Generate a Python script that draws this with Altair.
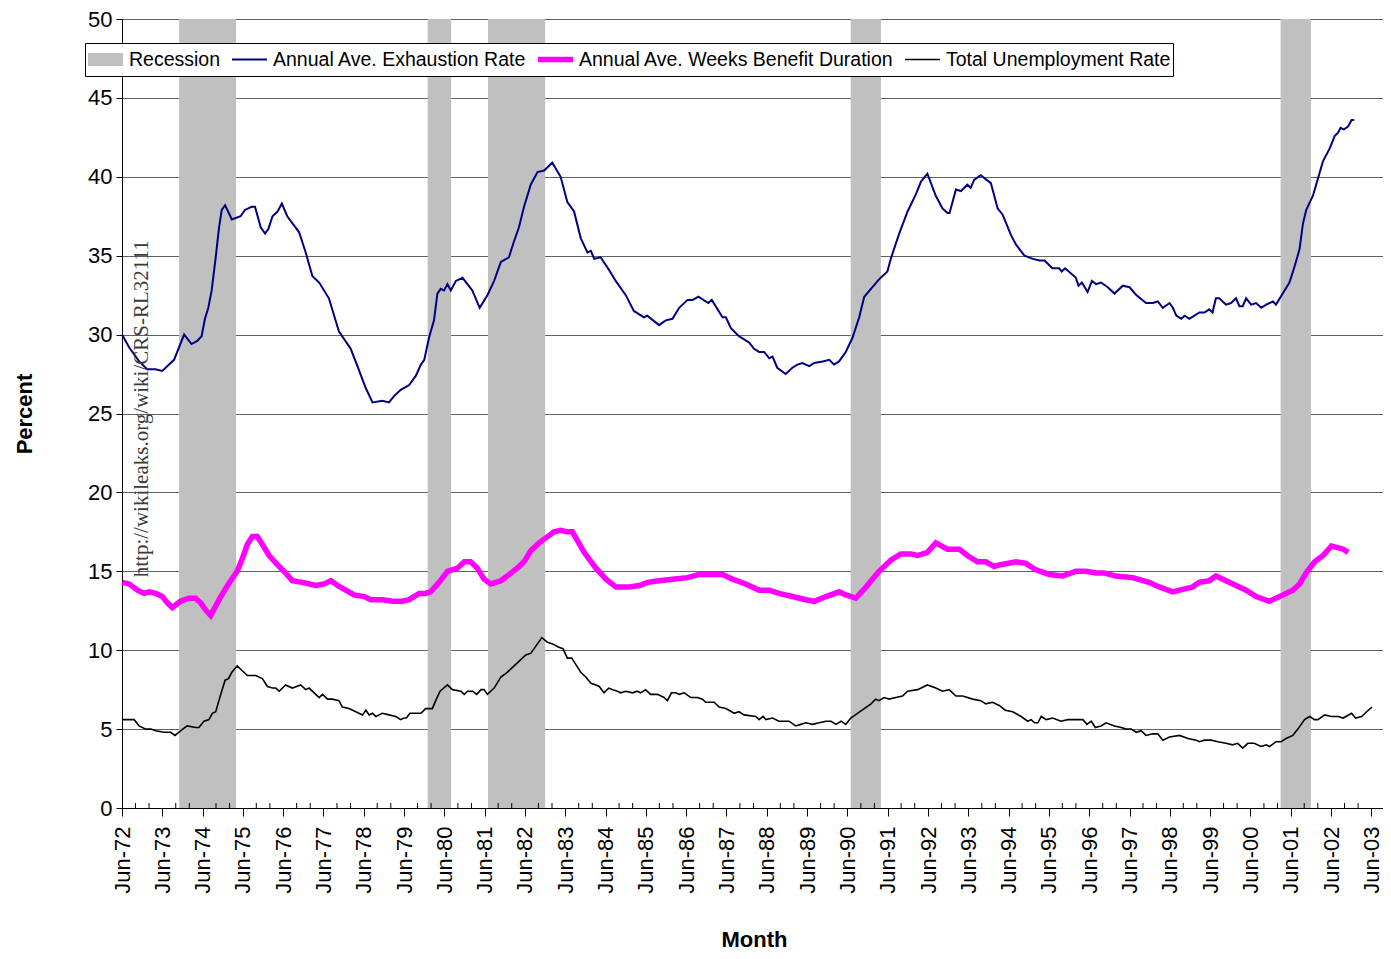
import altair as alt
import pandas as pd

# ---------------- data (month offsets from Jun-1972, values in percent) ----------------
EX_M = [0, 2.1, 5.1, 7.5, 9.9, 12.0, 14, 15.5, 18.5, 20.7, 22.4, 23.7, 24.7, 25.7, 26.7, 27.9, 28.9, 29.7, 30.7, 32.7,
        35.3, 36.6, 38.6, 39.6, 41.3, 42.6, 43.6, 44.8, 46.3, 47.6, 49.2, 52.7, 54.7, 56.7, 58.7, 61.6, 64.6, 68.1, 70.1,
        72.6, 74.6, 77.5, 79.5, 81, 83, 85.5, 87.5, 89, 90, 91.4, 92.9, 93.9, 94.9, 95.9, 96.9, 97.9, 99.4, 101.4, 104.3,
        106.5, 108.8, 110.8, 112.8, 115.2, 116.7, 118.2, 119.7, 121.7, 123.7, 125.7, 128.1, 130.6, 132.6, 134.6, 136.6,
        138.6, 139.6, 140.6, 142.5, 145, 147, 150, 152.4, 155.4, 156.4, 159.9, 161.9, 163.9, 165.9, 168.4, 169.9, 171.6,
        174.6, 175.6, 178.8, 179.8, 181.3, 183.7, 186.7, 188.2, 189.7, 191.2, 192.7, 193.7, 195.1, 197.6, 199.6, 201.1,
        202.6, 204.6, 206.1, 208.6, 210.6, 212, 213.5, 215.5, 217.5, 219.5, 221, 223, 225.4, 227.9, 228.9, 231.4, 233.9,
        236.4, 237.9, 239.8, 242.3, 244.3, 245.8, 246.4, 248.3, 249.8, 251.7, 252.7, 253.7, 255.7, 258.7, 260.7, 262.2,
        264.7, 266.2, 268.7, 271.2, 273.2, 274.7, 277, 279, 279.8, 280.8, 283, 284, 284.8, 285.8, 287.5, 288.8, 290,
        291.5, 293.5, 295.5, 298, 300, 302, 304.9, 306.9, 308.4, 309.9, 311.9, 312.9, 313.9, 315.4, 316.4, 317.8, 319.3,
        320.8, 322.3, 323.7, 324.7, 325.7, 326.7, 328.7, 330.2, 331.7, 332.7, 333.7, 334.7, 336.2, 337.7, 339.2, 340.7,
        342.7, 343.6, 345.6, 347.6, 349.1, 350.6, 351.6, 352.6, 354.6, 356.1, 357.6, 359.6, 361.1, 362.1, 362.8, 363.8,
        365.1, 366.1, 366.9]
EX_V = [30.0, 29.2, 28.3, 27.8, 27.8, 27.7, 28.1, 28.4, 30.0, 29.4, 29.6, 29.9, 31.0, 31.7, 32.8, 34.9, 36.8, 37.9, 38.2,
        37.3, 37.5, 37.9, 38.1, 38.1, 36.8, 36.4, 36.7, 37.5, 37.8, 38.3, 37.5, 36.5, 35.2, 33.7, 33.3, 32.3, 30.2, 29.1,
        28.0, 26.6, 25.7, 25.8, 25.7, 26.1, 26.5, 26.8, 27.4, 28.1, 28.4, 29.8, 30.9, 32.6, 32.9, 32.8, 33.2, 32.8, 33.4,
        33.6, 32.8, 31.7, 32.5, 33.4, 34.6, 34.9, 35.9, 36.8, 38.1, 39.5, 40.3, 40.4, 40.9, 40.0, 38.4, 37.8, 36.1, 35.2,
        35.3, 34.8, 34.9, 34.1, 33.4, 32.5, 31.5, 31.1, 31.2, 30.6, 30.9, 31.0, 31.7, 32.2, 32.2, 32.4, 32.0, 32.2, 31.1,
        31.1, 30.4, 29.9, 29.5, 29.1, 28.9, 28.9, 28.5, 28.6, 27.9, 27.5, 27.9, 28.1, 28.2, 28.0, 28.2, 28.3, 28.4, 28.1,
        28.3, 28.9, 29.8, 31.1, 32.4, 32.9, 33.5, 34.0, 34.8, 36.4, 37.8, 38.9, 39.7, 40.2, 38.8, 38.0, 37.7, 37.7, 39.2,
        39.1, 39.5, 39.3, 39.8, 40.1, 39.6, 38.0, 37.6, 36.3, 35.7, 35.0, 34.8, 34.7, 34.7, 34.2, 34.2, 34.0, 34.2, 33.8,
        33.6, 33.1, 33.3, 32.7, 33.4, 33.2, 33.3, 33.0, 32.6, 33.1, 33.0, 32.5, 32.0, 32.0, 32.1, 31.7, 32.0, 31.7, 31.2,
        31.0, 31.2, 31.0, 31.2, 31.4, 31.4, 31.6, 31.4, 32.3, 32.3, 31.9, 32.0, 32.3, 31.8, 31.8, 32.3, 31.9, 32.0, 31.7,
        31.9, 32.1, 31.9, 32.6, 33.3, 34.3, 35.4, 37.0, 37.9, 38.8, 39.9, 41.0, 41.8, 42.6, 42.8, 43.1, 43.0, 43.2, 43.6,
        43.6]

BD_M = [0.1, 2.1, 4.6, 6.6, 8.1, 10, 12, 13.5, 15, 17.4, 19.9, 21.9, 23.4, 25.1, 26.4, 28.9, 31.4, 34.3, 35.8, 37.3,
        38.8, 40.3, 41.8, 43.8, 46.8, 48.7, 50.7, 53.7, 57.7, 60.2, 62.2, 64.2, 66.6, 69.1, 72.1, 74.1, 77.5, 80.5, 83.5,
        85.5, 88.5, 90.4, 91.9, 94.4, 96.9, 99.9, 101.9, 103.8, 105.8, 107.8, 109.8, 112.8, 115.3, 118.2, 119.7, 121.7,
        124.2, 126.7, 128.6, 130.6, 132.6, 134.1, 137.6, 141.1, 144.1, 147.1, 151, 154, 156.5, 159.9, 163.9, 168.4, 171.8,
        175.8, 178.8, 181.8, 185.7, 189.7, 192.7, 195.6, 199.6, 203.6, 206.1, 209.6, 213.5, 215.5, 218.5, 221.5, 225.4,
        228.9, 231.9, 234.9, 236.9, 239.8, 242.3, 245.8, 249.3, 251.7, 254.7, 257.2, 259.7, 261.2, 266.2, 269.1, 272.1,
        276.1, 280, 284, 287, 290, 292.4, 295.9, 300.9, 305.8, 307.8, 312.8, 316.7, 318.7, 320.7, 323.7, 325.7, 328.7,
        331.7, 334.7, 337.7, 341.6, 343.6, 346.6, 348.6, 350.6, 352.6, 355.1, 357.6, 360.1, 362, 363.6, 365.1]
BD_V = [14.3, 14.2, 13.8, 13.6, 13.7, 13.6, 13.4, 13.0, 12.7, 13.1, 13.3, 13.3, 13.0, 12.5, 12.2, 13.2, 14.1, 15.0, 15.8,
        16.7, 17.2, 17.2, 16.7, 16.0, 15.3, 14.9, 14.4, 14.3, 14.1, 14.2, 14.4, 14.1, 13.8, 13.5, 13.4, 13.2, 13.2, 13.1,
        13.1, 13.2, 13.6, 13.6, 13.7, 14.3, 15.0, 15.2, 15.6, 15.6, 15.2, 14.5, 14.2, 14.4, 14.8, 15.3, 15.6, 16.3, 16.8,
        17.2, 17.5, 17.6, 17.5, 17.5, 16.2, 15.2, 14.5, 14.0, 14.0, 14.1, 14.3, 14.4, 14.5, 14.6, 14.8, 14.8, 14.8, 14.5,
        14.2, 13.8, 13.8, 13.6, 13.4, 13.2, 13.1, 13.4, 13.7, 13.5, 13.3, 14.0, 15.0, 15.7, 16.1, 16.1, 16.0, 16.2, 16.8,
        16.4, 16.4, 16.0, 15.6, 15.6, 15.3, 15.4, 15.6, 15.5, 15.1, 14.8, 14.7, 15.0, 15.0, 14.9, 14.9, 14.7, 14.6, 14.3,
        14.1, 13.7, 13.9, 14.0, 14.3, 14.4, 14.7, 14.4, 14.1, 13.8, 13.4, 13.1, 13.3, 13.6, 13.8, 14.2, 14.9, 15.6, 16.0,
        16.6, 16.5, 16.4, 16.2]

UR_M = [0.1, 2.1, 3.6, 5.1, 7.1, 8.6, 10, 12.5, 14.5, 15.8, 17.5, 19.4, 21.9, 22.9, 24.4, 25.9, 26.9, 27.9, 29.4, 30.7,
        31.7, 32.7, 34.3, 35.8, 37.3, 39.8, 41.8, 43.3, 44.8, 45.8, 46.8, 48.7, 50.7, 53.2, 54.7, 55.7, 58.7, 59.7, 61.2,
        62.6, 64.6, 65.6, 67.6, 69.6, 71.6, 72.6, 73.6, 74.6, 75.6, 77.5, 79.5, 81.5, 83, 84, 84.7, 85.7, 87.5, 89, 90.4,
        92.4, 93.4, 94.7, 96.9, 98.4, 100.9, 101.9, 102.9, 104.4, 105.6, 106.9, 107.8, 108.8, 110.8, 112.8, 114.7, 116.2,
        117.7, 120.2, 121.7, 123.7, 125, 126.7, 128.2, 129.9, 131.3, 132.6, 133.9, 135.1, 136.6, 138.1, 139.6, 141.1,
        142.1, 143.5, 144.9, 146.1, 147.5, 148.5, 150, 152, 153.4, 154.4, 155.9, 157.4, 159.4, 161.4, 162.4, 163.6, 164.9,
        165.9, 167.4, 169.4, 171.3, 172.8, 173.8, 176.3, 177.8, 179.8, 182.3, 183.7, 185.2, 188.7, 189.7, 190.9, 191.7,
        193.7, 195.6, 197.6, 198.6, 200.6, 202.1, 203.6, 205.6, 207.6, 209.6, 211.1, 212.6, 214.1, 215.5, 217, 219, 221,
        223, 224.4, 225.4, 226.9, 228.4, 230.4, 232.4, 233.9, 236.9, 239.8, 242.3, 244.3, 246.3, 248.3, 250.3, 253.3,
        255.7, 257.2, 259.2, 261.2, 263, 265.2, 267.7, 269.7, 270.7, 271.7, 272.7, 273.7, 275.2, 277.1, 279.6, 281.6,
        283.6, 286.1, 287.3, 288.6, 289.8, 291.5, 293, 295.5, 297.5, 299, 300.5, 302, 303.4, 304.9, 306.9, 308.4, 309.9,
        311.9, 314.9, 317.4, 319.8, 320.8, 322.3, 324.3, 326.3, 328.7, 330.7, 332.2, 333.7, 335.2, 337.1, 339.1, 340.7,
        341.7, 343.6, 345.1, 346.6, 348.6, 350.1, 352.1, 353.6, 355.1, 356.1, 358.1, 360.1, 362.1, 363.6, 366.1, 367.3,
        369.1, 370.6, 372.2]
UR_V = [5.6, 5.6, 5.6, 5.2, 5.0, 5.0, 4.9, 4.8, 4.8, 4.6, 4.9, 5.2, 5.1, 5.1, 5.5, 5.6, 6.0, 6.1, 7.2, 8.1, 8.2, 8.6, 9.0,
        8.7, 8.4, 8.4, 8.2, 7.7, 7.6, 7.6, 7.4, 7.8, 7.6, 7.8, 7.5, 7.6, 7.0, 7.2, 6.9, 6.9, 6.8, 6.4, 6.3, 6.1, 5.9, 6.2,
        5.9, 6.0, 5.8, 6.0, 5.9, 5.8, 5.6, 5.7, 5.7, 6.0, 6.0, 6.0, 6.3, 6.3, 6.8, 7.4, 7.8, 7.5, 7.4, 7.2, 7.4, 7.4, 7.2,
        7.5, 7.5, 7.2, 7.6, 8.3, 8.6, 8.9, 9.2, 9.7, 9.8, 10.4, 10.8, 10.5, 10.4, 10.2, 10.1, 9.5, 9.5, 9.1, 8.6, 8.3, 7.9,
        7.8, 7.7, 7.3, 7.6, 7.5, 7.4, 7.3, 7.4, 7.3, 7.4, 7.3, 7.5, 7.2, 7.2, 7.0, 6.8, 7.3, 7.3, 7.2, 7.3, 7.0, 7.0, 6.9,
        6.7, 6.7, 6.4, 6.3, 6.0, 6.1, 5.9, 5.8, 5.6, 5.8, 5.6, 5.7, 5.5, 5.5, 5.5, 5.2, 5.3, 5.4, 5.3, 5.4, 5.5, 5.5, 5.3,
        5.5, 5.3, 5.7, 6.0, 6.3, 6.6, 6.9, 6.8, 7.0, 6.9, 7.0, 7.1, 7.4, 7.5, 7.8, 7.6, 7.4, 7.5, 7.1, 7.1, 6.9, 6.8, 6.6,
        6.7, 6.5, 6.2, 6.1, 5.8, 5.5, 5.6, 5.4, 5.4, 5.8, 5.6, 5.7, 5.5, 5.6, 5.6, 5.6, 5.3, 5.5, 5.1, 5.2, 5.4, 5.2, 5.1,
        5.0, 5.0, 4.8, 4.9, 4.6, 4.7, 4.7, 4.3, 4.5, 4.6, 4.4, 4.3, 4.2, 4.3, 4.3, 4.2, 4.1, 4.0, 4.1, 3.8, 4.1, 4.1, 3.9,
        4.0, 3.9, 4.2, 4.2, 4.4, 4.6, 5.0, 5.6, 5.8, 5.6, 5.6, 5.9, 5.8, 5.8, 5.7, 6.0, 5.7, 5.8, 6.1, 6.4]

REC_START = ["1973-11-01", "1980-01-01", "1981-07-01", "1990-07-01", "2001-03-01"]
REC_END = ["1975-04-01", "1980-08-01", "1982-12-01", "1991-04-01", "2001-12-01"]

SERIES = ["Recession", "Annual Ave. Exhaustion Rate", "Annual Ave. Weeks Benefit Duration", "Total Unemployment Rate"]
COLORS = ["#C0C0C0", "#000080", "#FF00FF", "#000000"]
WIDTHS = [13, 2.0, 5.5, 1.6]

WM_TEXT = ["http://wikileaks.org/wiki/CRS-RL32111"]
WM_M = [6.0]
WM_V = [25.3]

START = pd.Timestamp("1972-06-01")


def to_date(m):
    return (START + pd.to_timedelta(m * 30.4375, unit="D")).strftime("%Y-%m-%dT%H:%M:%S")


rows = []
for name, ms, vs in [(SERIES[1], EX_M, EX_V), (SERIES[2], BD_M, BD_V), (SERIES[3], UR_M, UR_V)]:
    for m, v in zip(ms, vs):
        rows.append({"date": to_date(m), "value": v, "series": name})
lines_df = pd.DataFrame(rows)

rec_df = pd.DataFrame({"start": [s + "T00:00:00" for s in REC_START],
                       "end": [e + "T00:00:00" for e in REC_END]})
wm_df = pd.DataFrame({"date": [to_date(m) for m in WM_M], "value": WM_V, "text": WM_TEXT})

# minor tick positions (every 4 months, between the June labels)
minor_dates = []
for y in range(1972, 2003):
    minor_dates.append(f"{y}-10-01T00:00:00")
    minor_dates.append(f"{y + 1}-02-01T00:00:00")
minor_df = pd.DataFrame({"date": minor_dates})

FONT = "Liberation Sans"
W, H = 1261, 789

x_scale = alt.Scale(domain=[alt.DateTime(year=1972, month=6, date=1),
                            alt.DateTime(year=2003, month=9, date=15)])
y_scale = alt.Scale(domain=[0, 50])

major_vals = [alt.DateTime(year=y, month=6, date=1) for y in range(1972, 2004)]

y_axis = alt.Axis(values=list(range(0, 51, 5)), labelFontSize=22, labelFont=FONT, labelColor="black",
                  tickSize=6, tickColor="black", domainColor="black", gridColor="#606060",
                  labelPadding=4, title="Percent", titleFont=FONT, titleFontSize=22, titleFontWeight="bold",
                  titleColor="black", titleX=-98, titleY=H / 2, titleBaseline="middle", titleAlign="center")

x_axis_main = alt.Axis(values=major_vals, format="%b-%y", labelAngle=-90, labelFontSize=22, labelFont=FONT,
                       labelColor="black", tickSize=8, tickColor="black", domainColor="black", labelPadding=10,
                       grid=False, title="Month", titleFont=FONT, titleFontSize=22, titleFontWeight="bold",
                       titleColor="black", titleX=632, titleY=138, titleBaseline="alphabetic",
                       labelOverlap=False)

# long thin horizontal stroke symbol (twice the nominal symbol width)
legend = alt.Legend(title=None, orient="none", legendX=-37, legendY=24, direction="horizontal", columns=4,
                    symbolType="M-2,0H2", symbolSize=306, symbolOffset=3, labelFontSize=19.5, labelFont=FONT,
                    labelColor="black", strokeColor="black", fillColor="white", padding=2, columnPadding=10,
                    labelOffset=8, labelLimit=500, clipHeight=29)

rects = alt.Chart(rec_df).mark_rect(color="#C0C0C0").encode(
    x=alt.X("start:T", scale=x_scale, axis=x_axis_main),
    x2="end:T",
)

minor = alt.Chart(minor_df).mark_rule(color="black", strokeWidth=1).encode(
    x=alt.X("date:T", scale=x_scale),
    y=alt.value(H - 5),
    y2=alt.value(H),
)

lines = alt.Chart(lines_df).mark_line().encode(
    x=alt.X("date:T", scale=x_scale),
    y=alt.Y("value:Q", scale=y_scale, axis=y_axis),
    color=alt.Color("series:N", scale=alt.Scale(domain=SERIES, range=COLORS), legend=legend),
    strokeWidth=alt.StrokeWidth("series:N", scale=alt.Scale(type="ordinal", domain=SERIES, range=WIDTHS),
                                legend=legend),
    order=alt.Order("date:T"),
)

watermark = alt.Chart(wm_df).mark_text(angle=270, font="Liberation Serif", fontSize=21, color="#3a3a3a",
                                       align="center", baseline="middle").encode(
    x=alt.X("date:T", scale=x_scale),
    y=alt.Y("value:Q", scale=y_scale),
    text="text:N",
)

chart = alt.layer(rects, minor, lines, watermark).properties(
    width=W, height=H,
    autosize=alt.AutoSizeParams(type="none"),
    padding={"left": 114, "top": 11, "right": 0, "bottom": 143},
).configure_view(stroke="#808080", strokeWidth=1).configure(background="white")

chart.save("out.html", embed_options={"renderer": "svg", "actions": False})
